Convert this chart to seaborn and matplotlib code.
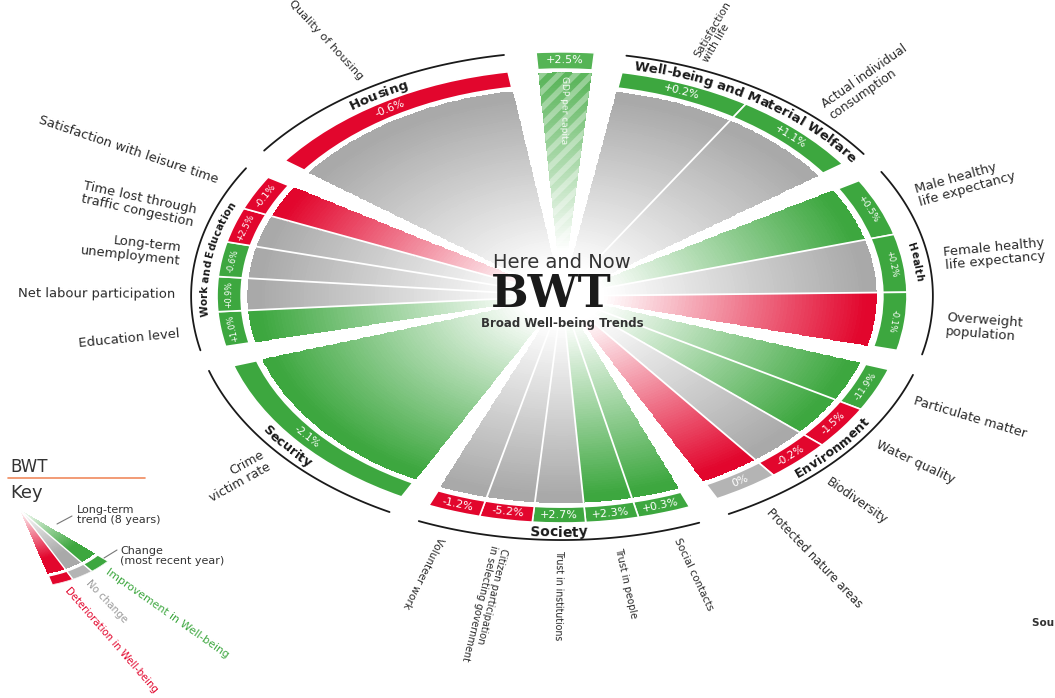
import numpy as np
import matplotlib
matplotlib.use("Agg")
import matplotlib.pyplot as plt
import seaborn as sns
from matplotlib.font_manager import FontProperties
from matplotlib.lines import Line2D

sns.set_theme(style="white")
plt.rcParams['font.family'] = ['DejaVu Sans']
plt.rcParams['hatch.linewidth'] = 4.0

# ---- data: indicators clockwise from the top, after GDP per capita ----
gdp_name = "GDP per capita"
gdp_change = "+2.5%"

group_names = ["Well-being and Material Welfare", "Health", "Environment",
               "Society", "Security", "Work and Education", "Housing"]
group_sizes = [2, 3, 4, 5, 1, 5, 1]

indicator_names = [
    "Satisfaction\nwith life", "Actual individual\nconsumption",
    "Male healthy\nlife expectancy", "Female healthy\nlife expectancy", "Overweight\npopulation",
    "Particulate matter", "Water quality", "Biodiversity", "Protected nature areas",
    "Social contacts", "Trust in people", "Trust in institutions",
    "Citizen participation\nin selecting government", "Volunteer work",
    "Crime\nvictim rate",
    "Education level", "Net labour participation", "Long-term\nunemployment",
    "Time lost through\ntraffic congestion", "Satisfaction with leisure time",
    "Quality of housing",
]
recent_change = ["+0.2%", "+1.1%",
                 "+0.5%", "+0.2%", "-0.1%",
                 "-11.9%", "-1.5%", "-0.2%", "0%",
                 "+0.3%", "+2.3%", "+2.7%", "-5.2%", "-1.2%",
                 "-2.1%",
                 "+1.0%", "+0.9%", "-0.6%", "+2.5%", "-0.1%",
                 "-0.6%"]
# 1 = improvement, 0 = no change, -1 = deterioration
recent_status = [1, 1, 1, 1, 1, 1, -1, -1, 0, 1, 1, 1, -1, -1, 1, 1, 1, 1, -1, -1, -1]
trend_status = [0, 0, 1, 0, -1, 1, 1, 0, -1, 1, 1, 0, 0, 0, 1, 1, 0, 0, 0, -1, 0]

key_labels = ["Deterioration in Well-being", "No change", "Improvement in Well-being"]
key_status = [-1, 0, 1]

band_colors = {1: '#3DA73F', 0: '#B4B4B4', -1: '#E2062D'}
trend_colors = {1: '#3DA73F', 0: '#A9A9A9', -1: '#E2062D'}
gdp_color = '#5DB65D'
ink = '#2a2a2a'

W, H = 1055, 698
STRETCH = 1.5   # the original artwork is stretched horizontally


def px(x, y):
    return x / W, 1 - y / H


def squeeze(rot):
    # text along a steep direction is shorter in the stretched original
    r = np.radians(rot)
    return np.sqrt(np.cos(r) ** 2 + (np.sin(r) / STRETCH) ** 2) ** 0.8


def tangent_deg(ax, th, r, ccw):
    a = ax.transData.transform((th, r))
    b = ax.transData.transform((th + 1e-4, r))
    d = (b - a) if ccw else (a - b)
    return np.degrees(np.arctan2(d[1], d[0]))


def radial_deg(ax, th, outward):
    a = ax.transData.transform((th, 1.0))
    b = ax.transData.transform((th, 1.01))
    d = (b - a) if outward else (a - b)
    return np.degrees(np.arctan2(d[1], d[0]))


def px_per_r(ax, th, r):
    a = ax.transData.transform((th, r))
    b = ax.transData.transform((th, r + 0.01))
    return np.hypot(*(b - a)) / 0.01


def gradient_wedge(ax, t_lo, t_hi, r_top, color, r0=0.12, r1=0.88):
    th = np.radians(np.linspace(t_lo, t_hi, 40))
    rr = np.linspace(0, r_top, 90)
    T, R = np.meshgrid(th, rr)
    mid = (rr[:-1] + rr[1:]) / 2
    C = np.repeat(np.clip((mid - r0) / (r1 - r0), 0, 1)[:, None], len(th) - 1, axis=1)
    cmap = sns.blend_palette(['white', color], as_cmap=True)
    ax.pcolormesh(T, R, C, cmap=cmap, vmin=0, vmax=1, shading='flat',
                  antialiased=False, edgecolors='none')


fig = plt.figure(figsize=(W / 100, H / 100), dpi=100)
renderer = fig.canvas.get_renderer()


def text_w(s, fp):
    return renderer.get_text_width_height_descent(s, fp, ismath=False)[0]


def curved_text(ax, s, th_mid, r, ccw, base_size, color):
    fp = FontProperties(family='DejaVu Sans', weight='bold',
                        size=base_size * squeeze(tangent_deg(ax, th_mid, r, ccw)))
    total = text_w(s, fp)
    ths = np.linspace(th_mid - np.radians(70), th_mid + np.radians(70), 3001)
    pts = ax.transData.transform(np.column_stack([ths, np.full_like(ths, r)]))
    arc = np.concatenate([[0], np.cumsum(np.hypot(*np.diff(pts, axis=0).T))])
    arc -= np.interp(th_mid, ths, arc)
    sign = 1 if ccw else -1
    cap = 0.72 * fp.get_size_in_points() * 100 / 72
    for i, ch in enumerate(s):
        if ch == ' ':
            continue
        c = text_w(s[:i + 1], fp) - text_w(ch, fp) / 2 - total / 2
        th = np.interp(sign * c, arc, ths)
        off = (cap / 2) / px_per_r(ax, th, r)
        rb = r + off if ccw else r - off
        ax.text(th, rb, ch, rotation=tangent_deg(ax, th, rb, ccw), rotation_mode='anchor',
                ha='center', va='baseline', fontproperties=fp, color=color)


# ---- main wheel ----
cx, cy, sx, sy, rmax = 562, 296, 345, 227, 1.3
ax = fig.add_axes([(cx - rmax * sx) / W, (H - cy - rmax * sy) / H,
                   2 * rmax * sx / W, 2 * rmax * sy / H], projection='polar')
ax.set_aspect('auto')
ax.set_ylim(0, rmax)
ax.set_axis_off()

GDP_MID, GDP_W, GAP = 89.5, 9.0, 5.0
span = (360 - GDP_W - GAP * (len(group_names) + 1)) / len(group_names)
hi = GDP_MID - GDP_W / 2 - GAP
g_hi, g_lo, ind_hi, ind_lo, ind_group = [], [], [], [], []
for gi, n in enumerate(group_sizes):
    lo = hi - span
    g_hi.append(hi)
    g_lo.append(lo)
    edges = np.linspace(hi, lo, n + 1)
    for k in range(n):
        ind_hi.append(edges[k])
        ind_lo.append(edges[k + 1])
        ind_group.append(gi)
    hi = lo - GAP

WEDGE_R, BAND_R0, BAND_R1, ARC_R, LABEL_R = 0.912, 0.93, 1.0, 1.075, 1.12
ccw_group = [np.sin(np.radians((a + b) / 2)) < -0.3 for a, b in zip(g_hi, g_lo)]

# long-term trend wedges
for lo, hi_, st in zip(ind_lo, ind_hi, trend_status):
    gradient_wedge(ax, lo, hi_, WEDGE_R, trend_colors[st])
# dividers inside groups
for gi in range(len(group_names)):
    inner = [h for h, g in zip(ind_hi, ind_group) if g == gi][1:]
    for t in inner:
        ax.plot([np.radians(t)] * 2, [0, WEDGE_R], color='white', lw=1.3)

# most-recent-year band
mids = np.radians((np.array(ind_lo) + np.array(ind_hi)) / 2)
widths = np.radians(np.array(ind_hi) - np.array(ind_lo))
ax.bar(mids, BAND_R1 - BAND_R0, width=widths, bottom=BAND_R0,
       color=[band_colors[s] for s in recent_status], edgecolor='white', linewidth=1.2)

# GDP per capita wedge (hatched, offset outward)
g0, g1 = GDP_MID - GDP_W / 2, GDP_MID + GDP_W / 2
gradient_wedge(ax, g0, g1, 0.985, gdp_color, r0=0.2, r1=0.95)
ax.bar(np.radians(GDP_MID), 0.985, width=np.radians(GDP_W), bottom=0,
       facecolor='none', edgecolor=(1, 1, 1, 0.35), hatch='//', linewidth=0)
ax.bar(np.radians(GDP_MID), 0.075, width=np.radians(GDP_W), bottom=1.0,
       color='#55B455', edgecolor='white', linewidth=1.0)

# group arcs and names
for gi, name in enumerate(group_names):
    th = np.radians(np.linspace(g_lo[gi], g_hi[gi], 120))
    ax.plot(th, np.full_like(th, ARC_R), color='#1a1a1a', lw=1.3)
    curved_text(ax, name, np.radians((g_lo[gi] + g_hi[gi]) / 2), 1.038,
                ccw_group[gi], 10, '#1a1a1a')

# change labels in the band and indicator names outside
for i, name in enumerate(indicator_names):
    th = mids[i]
    ccw = ccw_group[ind_group[i]]
    rot = tangent_deg(ax, th, 0.965, ccw)
    ax.text(th, (BAND_R0 + BAND_R1) / 2, recent_change[i], color='white',
            fontsize=8 * squeeze(rot), rotation=rot, rotation_mode='anchor',
            ha='center', va='center')
    outward = np.cos(th) > 0.05 or np.sin(th) < -0.9
    al = 'left' if outward else 'right'
    rot = radial_deg(ax, th, outward)
    ax.text(th, LABEL_R, name, color=ink, fontsize=9.5 * squeeze(rot),
            rotation=rot, rotation_mode='anchor',
            ha=al, va='center', multialignment=al, linespacing=1.05)

gth = np.radians(GDP_MID)
ax.text(gth, 1.0375, gdp_change, color='white', fontsize=8,
        rotation=tangent_deg(ax, gth, 1.0375, False), rotation_mode='anchor',
        ha='center', va='center')
ax.text(gth, 0.82, gdp_name, color='white', fontsize=6.5, alpha=0.9,
        rotation=radial_deg(ax, gth, False), rotation_mode='anchor',
        ha='center', va='center')

# centre title
fig.text(*px(562, 263), "Here and Now", ha='center', va='center', fontsize=14, color='#333333')
fig.text(*px(551, 307), "BWT", ha='center', va='baseline', fontsize=32, fontweight='bold',
         family='DejaVu Serif', color='#1a1a1a')
fig.text(*px(562, 323), "Broad Well-being Trends", ha='center', va='center',
         fontsize=8.5, fontweight='bold', color='#333333')

# ---- key ----
fig.text(*px(10, 467), "BWT", ha='left', va='center', fontsize=12, color='#333333')
fig.add_artist(Line2D([8 / W, 145 / W], [1 - 478 / H] * 2, transform=fig.transFigure,
                      color='#F08A5D', lw=1.2))
fig.text(*px(10, 493), "Key", ha='left', va='center', fontsize=13, color='#333333')

kx, ky, ksx, ksy = 20, 510, 117, 78
kax = fig.add_axes([(kx - ksx) / W, (H - ky - ksy) / H, 2 * ksx / W, 2 * ksy / H],
                   projection='polar')
kax.set_aspect('auto')
kax.set_ylim(0, 1.0)
kax.set_axis_off()
k_edges = np.linspace(-74, -41, len(key_status) + 1)
for k, st in enumerate(key_status):
    gradient_wedge(kax, k_edges[k], k_edges[k + 1], 0.85, trend_colors[st], r0=0.0, r1=0.65)
kmids = np.radians((k_edges[:-1] + k_edges[1:]) / 2)
kax.bar(kmids, 0.12, width=np.radians(np.diff(k_edges)), bottom=0.88,
        color=[band_colors[s] for s in key_status], edgecolor='white', linewidth=1.0)
for t in k_edges[1:-1]:
    kax.plot([np.radians(t)] * 2, [0, 0.86], color='white', lw=1.0)
for k, (lab, st) in enumerate(zip(key_labels, key_status)):
    rot = max(radial_deg(kax, kmids[k], True), -49)
    kax.text(kmids[k], 1.08, lab, color=band_colors[st] if st else '#9A9A9A',
             fontsize=8.5 * squeeze(rot), rotation=rot, rotation_mode='anchor',
             ha='left', va='center')

fig.add_artist(Line2D([57 / W, 72 / W], [1 - 524 / H, 1 - 516 / H], transform=fig.transFigure,
                      color='#777777', lw=0.8))
fig.text(*px(77, 515), "Long-term\ntrend (8 years)", ha='left', va='center', fontsize=8,
         color='#333333', linespacing=1.0)
fig.add_artist(Line2D([104 / W, 117 / W], [1 - 558 / H, 1 - 550 / H], transform=fig.transFigure,
                      color='#777777', lw=0.8))
fig.text(*px(120, 556), "Change\n(most recent year)", ha='left', va='center', fontsize=8,
         color='#333333', linespacing=1.0)

fig.text(*px(1032, 623), "Source: CBS", ha='left', va='center', fontsize=7.5,
         fontweight='bold', color='#333333')

fig.savefig("out.png", dpi=100)
